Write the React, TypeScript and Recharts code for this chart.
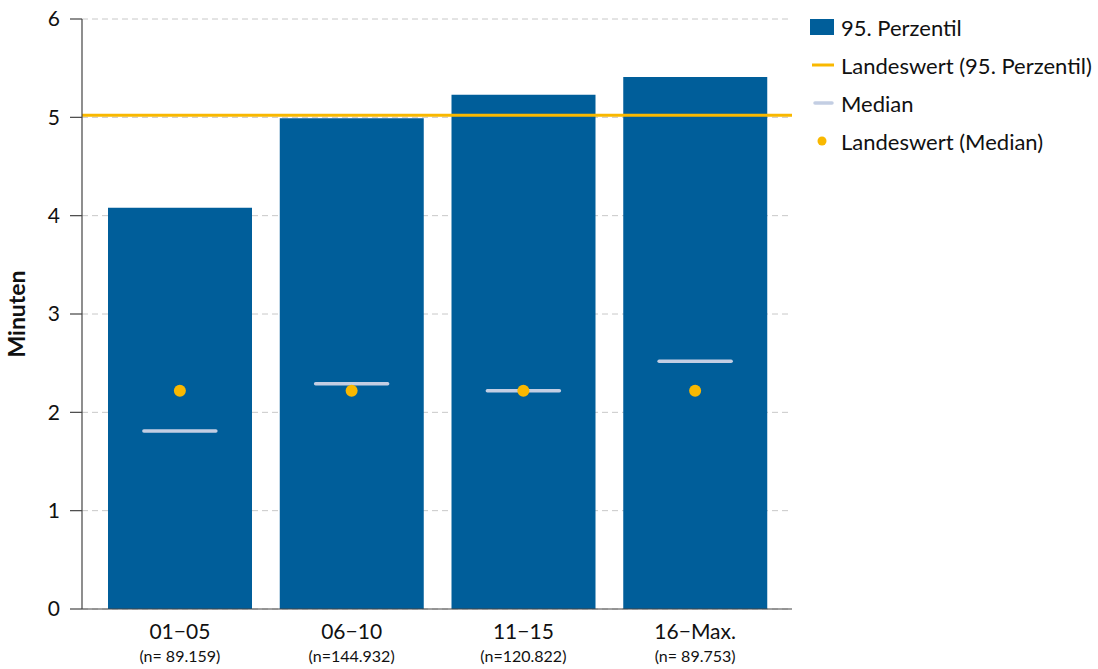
import { ComposedChart, Bar, Line, XAxis, YAxis, CartesianGrid, ReferenceLine } from 'recharts'

const categories = ['01−05', '06−10', '11−15', '16−Max.']
const sampleSizes = ['(n= 89.159)', '(n=144.932)', '(n=120.822)', '(n= 89.753)']
const perzentil95 = [4.08, 4.99, 5.23, 5.41]
const median = [1.81, 2.29, 2.22, 2.52]
const landeswertMedian = [2.22, 2.22, 2.22, 2.22]
const landeswert95 = 5.02
const yTicks = [0, 1, 2, 3, 4, 5, 6]

const BLUE = '#005e9a'
const YELLOW = '#f9b800'
const MEDIAN = '#c3cee3'
const FONT = 'Lato, "Open Sans", sans-serif'

const chartData = categories.map((name, i) => ({
  name,
  n: sampleSizes[i],
  p95: perzentil95[i],
  median: median[i],
  landMedian: landeswertMedian[i],
}))

function CategoryTick({ x, y, payload, index }: any) {
  return (
    <g transform={`translate(${x},${y})`}>
      <text textAnchor="middle" y={22} fontSize={21} fill="#111" fontFamily={FONT}>
        {payload.value}
      </text>
      <text textAnchor="middle" y={45} fontSize={16} fill="#111" fontFamily={FONT}>
        {sampleSizes[index]}
      </text>
    </g>
  )
}

function MedianMark({ cx, cy }: any) {
  if (cx == null || cy == null) return null
  return (
    <line
      x1={cx - 36}
      x2={cx + 36}
      y1={cy}
      y2={cy}
      stroke={MEDIAN}
      strokeWidth={3.5}
      strokeLinecap="round"
    />
  )
}

function LandDot({ cx, cy }: any) {
  if (cx == null || cy == null) return null
  return <circle cx={cx} cy={cy} r={6} fill={YELLOW} />
}

function ChartLegend() {
  const row = { display: 'flex', alignItems: 'center', height: 38 } as const
  const label = { fontSize: 22, color: '#111', fontFamily: FONT, marginLeft: 7 }
  return (
    <div style={{ position: 'absolute', left: 810, top: 8 }}>
      <div style={row}>
        <svg width={24} height={20}>
          <rect x={0} y={2} width={24} height={16} fill={BLUE} />
        </svg>
        <span style={label}>95. Perzentil</span>
      </div>
      <div style={row}>
        <svg width={24} height={20}>
          <line x1={2} x2={24} y1={10} y2={10} stroke={YELLOW} strokeWidth={3} />
        </svg>
        <span style={label}>Landeswert (95. Perzentil)</span>
      </div>
      <div style={row}>
        <svg width={24} height={20}>
          <line x1={5} x2={22} y1={10} y2={10} stroke={MEDIAN} strokeWidth={3.5} strokeLinecap="round" />
        </svg>
        <span style={label}>Median</span>
      </div>
      <div style={row}>
        <svg width={24} height={20}>
          <circle cx={12} cy={10} r={4.5} fill={YELLOW} />
        </svg>
        <span style={label}>Landeswert (Median)</span>
      </div>
    </div>
  )
}

export default function App() {
  return (
    <div style={{ position: 'absolute', left: 0, top: 0, width: 1098, height: 669, background: '#fff' }}>
      <ComposedChart
        width={1098}
        height={669}
        data={chartData}
        margin={{ top: 19, right: 306, bottom: 0, left: 8 }}
      >
        <CartesianGrid horizontal vertical={false} stroke="#c8c8c8" strokeDasharray="6 4" />
        <XAxis
          dataKey="name"
          tick={<CategoryTick />}
          tickLine={false}
          axisLine={{ stroke: '#444', strokeWidth: 1.2 }}
          padding={{ left: 12, right: 11 }}
          interval={0}
          height={60}
        />
        <YAxis
          width={74}
          domain={[0, 6]}
          ticks={yTicks}
          tickSize={12}
          tickMargin={10}
          axisLine={{ stroke: '#444', strokeWidth: 1.2 }}
          tickLine={{ stroke: '#444', strokeWidth: 1.2 }}
          tick={{ fontSize: 21, fill: '#111', fontFamily: FONT }}
          label={{
            value: 'Minuten',
            angle: -90,
            position: 'insideLeft',
            offset: 9,
            style: { fontSize: 23, fontWeight: 700, fill: '#111', fontFamily: FONT, textAnchor: 'middle' },
          }}
        />
        <Bar dataKey="p95" fill={BLUE} barSize={144} isAnimationActive={false} />
        <ReferenceLine y={landeswert95} stroke={YELLOW} strokeWidth={3} />
        <Line
          dataKey="median"
          stroke="none"
          dot={<MedianMark />}
          activeDot={false}
          isAnimationActive={false}
        />
        <Line
          dataKey="landMedian"
          stroke="none"
          dot={<LandDot />}
          activeDot={false}
          isAnimationActive={false}
        />
      </ComposedChart>
      <ChartLegend />
    </div>
  )
}
